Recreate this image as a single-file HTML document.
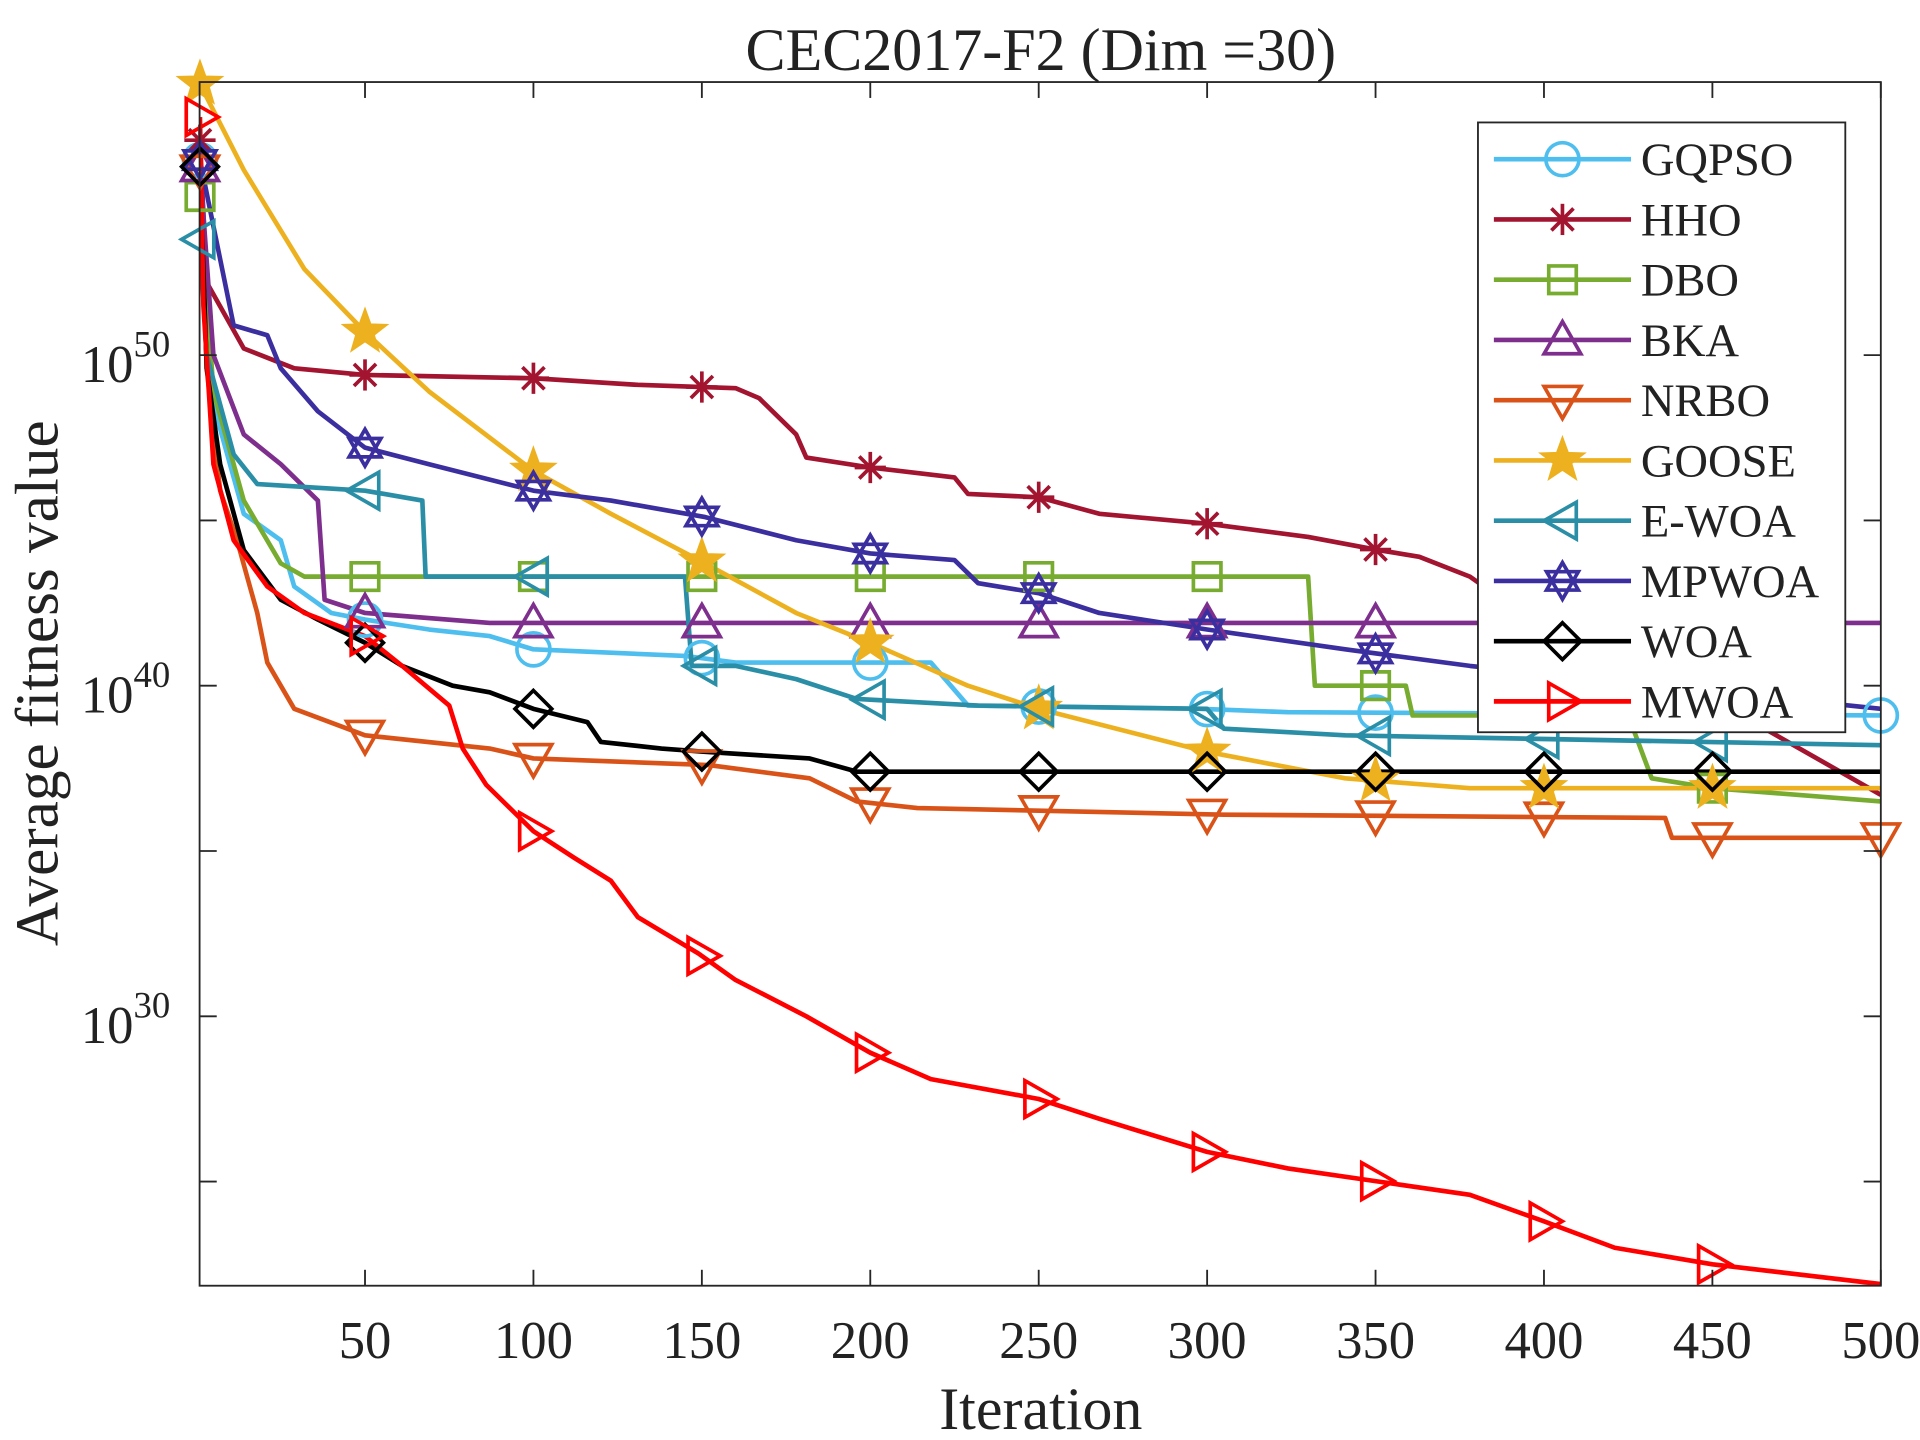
<!DOCTYPE html>
<html><head><meta charset="utf-8"><style>
html,body{margin:0;padding:0;background:#fff}
svg{display:block}
text{font-family:"Liberation Serif",serif;fill:#222}
</style></head><body>
<svg id="chart" width="1920" height="1440" viewBox="0 0 1568 1176" xmlns="http://www.w3.org/2000/svg">
<rect width="1568" height="1176" fill="#fff"/>
<defs><clipPath id="plotClip"><rect x="163" y="67" width="1373" height="983"/></clipPath></defs>
<g id="grid"></g>
<g id="lines" clip-path="url(#plotClip)"></g>
<g id="markers"></g>
<g id="axes"></g>
<g id="legend"></g>
<text x="850" y="57" text-anchor="middle" font-size="49">CEC2017-F2 (Dim =30)</text>
<text x="850" y="1167" text-anchor="middle" font-size="49">Iteration</text>
<text x="0" y="0" transform="translate(47,558) rotate(-90)" text-anchor="middle" font-size="50">Average fitness value</text>
</svg>
<script>
// data in (iteration, log10 fitness)
const xTicks = [50,100,150,200,250,300,350,400,450,500];
const yTicks = [30,40,50];
const yMinor = [25,35,45];
const seriesNames = ["GQPSO","HHO","DBO","BKA","NRBO","GOOSE","E-WOA","MPWOA","WOA","MWOA"];
const GQPSO = [[1,55.9],[5,48.5],[14,45.2],[25,44.4],[29,43.0],[40,42.2],[50,42.0],[69,41.7],[87,41.5],[100,41.1],[145,40.9],[160,40.7],[218,40.7],[229,39.4],[298,39.3],[324,39.2],[500,39.1]];
const HHO = [[1,56.5],[3,52.2],[14,50.2],[29,49.6],[50,49.4],[100,49.3],[131,49.1],[160,49.0],[167,48.7],[178,47.6],[181,46.9],[200,46.6],[225,46.3],[229,45.8],[250,45.7],[268,45.2],[300,44.9],[330,44.5],[351,44.1],[363,43.9],[378,43.3],[385,42.8],[450,39.6],[500,36.7]];
const DBO = [[1,54.8],[5,48.9],[14,45.6],[25,43.7],[32,43.3],[330,43.3],[332,40.0],[359,40.0],[361,39.1],[425,39.1],[432,37.2],[450,36.9],[500,36.5]];
const BKA = [[1,55.7],[5,50.0],[14,47.6],[25,46.7],[36,45.6],[38,42.6],[50,42.2],[87,41.9],[500,41.9]];
const NRBO = [[1,55.6],[3,49.6],[7,45.9],[12,44.4],[15,43.3],[18,42.2],[21,40.7],[29,39.3],[50,38.5],[87,38.1],[100,37.8],[152,37.6],[182,37.2],[196,36.5],[214,36.3],[305,36.1],[436,36.0],[438,35.4],[500,35.4]];
const GOOSE = [[1,58.2],[14,55.6],[32,52.6],[50,50.7],[69,48.9],[100,46.5],[123,45.2],[151,43.7],[178,42.2],[200,41.3],[229,40.0],[250,39.3],[300,38.0],[341,37.2],[378,36.9],[500,36.9]];
const EWOA = [[1,53.5],[3,50.0],[11,47.0],[18,46.1],[50,45.9],[67,45.6],[68,43.3],[145,43.3],[147,40.6],[160,40.6],[178,40.2],[196,39.6],[232,39.4],[300,39.3],[305,38.7],[341,38.5],[500,38.2]];
const MPWOA = [[1,55.9],[11,50.9],[21,50.6],[25,49.6],[36,48.3],[50,47.2],[69,46.7],[100,45.9],[123,45.6],[151,45.1],[178,44.4],[200,44.0],[225,43.8],[232,43.1],[250,42.8],[268,42.2],[300,41.7],[341,41.1],[378,40.6],[500,39.3]];
const WOA = [[1,55.7],[3,49.6],[7,46.7],[14,44.1],[25,42.6],[36,42.0],[50,41.3],[61,40.6],[76,40.0],[87,39.8],[100,39.3],[116,38.9],[120,38.3],[138,38.1],[151,38.0],[182,37.8],[196,37.4],[500,37.4]];
const MWOA = [[1,57.2],[2,51.5],[5,46.7],[11,44.4],[21,43.0],[32,42.2],[50,41.5],[61,40.6],[75,39.4],[79,38.1],[86,37.0],[100,35.6],[112,34.8],[123,34.1],[131,33.0],[149,31.9],[160,31.1],[181,30.0],[200,28.9],[218,28.1],[250,27.5],[268,26.9],[300,25.9],[324,25.4],[351,25.0],[378,24.6],[400,23.8],[421,23.0],[450,22.5],[500,21.9]];
const markerIters = [1,50,100,150,200,250,300,350,400,450];
const endMarkerSeries = ["GQPSO","NRBO"];

const X0=163.3, X1=1536, Y0=1050, Y1=67;
const xMin=1, xMax=500, yMin=21.85, yMax=58.26;
const xs = v => X0 + (v-xMin)/(xMax-xMin)*(X1-X0);
const ys = v => Y0 - (v-yMin)/(yMax-yMin)*(Y0-Y1);
const NS="http://www.w3.org/2000/svg";
function mk(tag, attrs, parent){const e=document.createElementNS(NS,tag);for(const k in attrs)e.setAttribute(k,attrs[k]);parent.appendChild(e);return e;}

const styles = {
 "GQPSO":{c:"#4DBEEE",m:"circle",d:GQPSO},
 "HHO":{c:"#A2142F",m:"asterisk",d:HHO},
 "DBO":{c:"#77AC30",m:"square",d:DBO},
 "BKA":{c:"#7E2F8E",m:"tri-up",d:BKA},
 "NRBO":{c:"#D95319",m:"tri-down",d:NRBO},
 "GOOSE":{c:"#EDB120",m:"star",d:GOOSE},
 "E-WOA":{c:"#2A8FA6",m:"tri-left",d:EWOA},
 "MPWOA":{c:"#3B2FA0",m:"hexagram",d:MPWOA},
 "WOA":{c:"#000000",m:"diamond",d:WOA},
 "MWOA":{c:"#FF0000",m:"tri-right",d:MWOA}
};

function interp(d, it){
  for(let i=1;i<d.length;i++){ if(it<=d[i][0]){const a=d[i-1],b=d[i];return a[1]+(b[1]-a[1])*(it-a[0])/(b[0]-a[0]);} }
  return d[d.length-1][1];
}
function drawMarker(type,cx,cy,color,parent,s){
  s=s||15;
  const base={fill:"none",stroke:color,"stroke-width":3};
  let e;
  const poly=pts=>mk("polygon",Object.assign({points:pts.map(p=>(cx+p[0]).toFixed(1)+","+(cy+p[1]).toFixed(1)).join(" ")},base),parent);
  if(type==="circle") e=mk("circle",Object.assign({cx,cy,r:s*0.9},base),parent);
  else if(type==="square") e=poly([[-s*.75,-s*.75],[s*.75,-s*.75],[s*.75,s*.75],[-s*.75,s*.75]]);
  else if(type==="diamond") e=poly([[0,-s],[s,0],[0,s],[-s,0]]);
  else if(type==="tri-up") e=poly([[0,-s],[s,s*.75],[-s,s*.75]]);
  else if(type==="tri-down") e=poly([[0,s],[s,-s*.75],[-s,-s*.75]]);
  else if(type==="tri-left") e=poly([[-s,0],[s*.75,-s],[s*.75,s]]);
  else if(type==="tri-right") e=poly([[s,0],[-s*.75,-s],[-s*.75,s]]);
  else if(type==="star"){const p=[];for(let i=0;i<10;i++){const r=i%2?s*.45:s*1.1;const a=-Math.PI/2+i*Math.PI/5;p.push([r*Math.cos(a),r*Math.sin(a)]);}e=poly(p);e.setAttribute("fill",color);}
  else if(type==="hexagram"){const g=mk("g",{},parent);const t1=[],t2=[];for(let i=0;i<3;i++){const a=-Math.PI/2+i*2*Math.PI/3;t1.push([cx+s*Math.cos(a),cy+s*Math.sin(a)]);const b=Math.PI/2+i*2*Math.PI/3;t2.push([cx+s*Math.cos(b),cy+s*Math.sin(b)]);}
    mk("polygon",Object.assign({points:t1.map(p=>p.join(",")).join(" ")},base),g);mk("polygon",Object.assign({points:t2.map(p=>p.join(",")).join(" ")},base),g);e=g;}
  else if(type==="asterisk"){const g=mk("g",{},parent);for(let i=0;i<4;i++){const a=i*Math.PI/4;const dx=s*.85*Math.cos(a),dy=s*.85*Math.sin(a);mk("line",Object.assign({x1:cx-dx,y1:cy-dy,x2:cx+dx,y2:cy+dy},base),g);}e=g;}
  return e;
}

const gLines=document.getElementById("lines"), gMark=document.getElementById("markers");
seriesNames.forEach(name=>{
  const st=styles[name];
  const pl=mk("polyline",{points:st.d.map(p=>xs(p[0]).toFixed(1)+","+ys(p[1]).toFixed(1)).join(" "),fill:"none",stroke:st.c,"stroke-width":3.8,"stroke-linejoin":"round"},gLines);
  
  
  const g=mk("g",{},gMark);
  
  
  const its = endMarkerSeries.includes(name) ? markerIters.concat([500]) : markerIters;
  its.forEach(it=>{ drawMarker(st.m, xs(it), ys(interp(st.d,it)), st.c, g); });
});

// axes
const gA=document.getElementById("axes");
const frame=mk("rect",{x:163,y:67,width:1373,height:983,fill:"none",stroke:"#262626","stroke-width":1.5},gA);


xTicks.forEach(t=>{
  const x=xs(t);
  mk("line",{x1:x,y1:1050,x2:x,y2:1037,stroke:"#262626","stroke-width":1.5},gA);
  mk("line",{x1:x,y1:67,x2:x,y2:80,stroke:"#262626","stroke-width":1.5},gA);
  const tx=mk("text",{x:x,y:1109,"text-anchor":"middle","font-size":43},gA);
  tx.textContent=t;
  
  
});
yTicks.concat(yMinor).forEach(t=>{
  const y=ys(t);
  mk("line",{x1:163,y1:y,x2:177,y2:y,stroke:"#262626","stroke-width":1.5},gA);
  mk("line",{x1:1536,y1:y,x2:1522,y2:y,stroke:"#262626","stroke-width":1.5},gA);
});
yTicks.forEach(t=>{
  const y=ys(t);
  const tx=mk("text",{x:66,y:y+22,"font-size":43},gA);
  
  
  const a=mk("tspan",{},tx);a.textContent="10";
  const b=mk("tspan",{dy:-21,"font-size":30},tx);b.textContent=t;
});

const gL=document.getElementById("legend");
const box=mk("rect",{x:1207,y:100,width:300,height:498,fill:"#fff",stroke:"#262626","stroke-width":1.5},gL);


seriesNames.forEach((name,i)=>{
  const st=styles[name], y=130+i*49.2;
  const g=mk("g",{},gL);
  
  
  mk("line",{x1:1220,y1:y,x2:1332,y2:y,stroke:st.c,"stroke-width":3.8},g);
  drawMarker(st.m,1276,y,st.c,g);
  const t=mk("text",{x:1340,y:y+13,"font-size":38},g);
  t.textContent=name;
});
</script>
</body></html>
